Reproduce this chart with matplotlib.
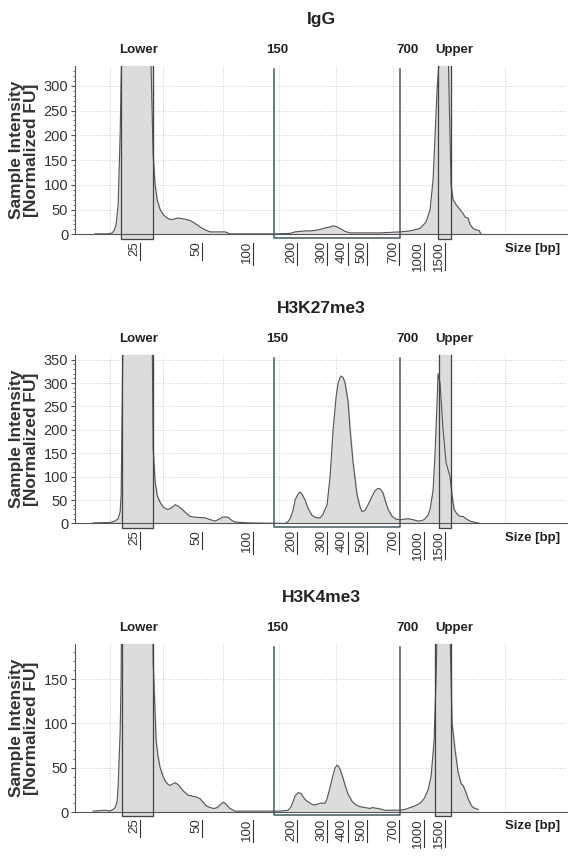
import numpy as np
import matplotlib.pyplot as plt
import matplotlib.transforms as mtransforms

plt.rcParams["font.family"] = ["Liberation Sans", "DejaVu Sans"]

# x positions are migration positions (arbitrary units), y is normalized FU
titles = ["IgG", "H3K27me3", "H3K4me3"]
y_tops = [340, 360, 190]
y_ticks = [[0, 50, 100, 150, 200, 250, 300],
           [0, 50, 100, 150, 200, 250, 300, 350],
           [0, 50, 100, 150]]

igg_x = [95, 108, 112, 114, 116, 118, 120, 122, 150, 153, 155, 157, 160, 163, 167, 170, 174,
         178, 184, 190, 195, 200, 205, 210, 218, 225, 230, 250, 275, 290, 295, 300, 305, 310,
         315, 320, 325, 330, 333, 336, 340, 345, 350, 380, 400, 410, 420, 426, 430, 433, 435,
         437, 438, 441, 448, 451, 453, 456, 460, 463, 465, 468, 470, 473, 476, 479, 481]
igg_y = [1, 1, 3, 8, 20, 60, 200, 420, 420, 160, 100, 70, 50, 40, 33, 30, 31,
         33, 31, 28, 22, 15, 9, 5, 5, 5, 1, 1, 1, 2, 5, 6, 7, 7,
         8, 10, 13, 15, 17, 16, 12, 6, 3, 3, 5, 7, 12, 25, 50, 110, 200,
         290, 320, 400, 380, 100, 70, 60, 50, 42, 35, 33, 20, 12, 9, 8, 0]

k27_x = [93, 110, 114, 118, 120, 121, 123, 152, 153, 155, 157, 160, 163, 166, 168, 171, 175,
         178, 182, 186, 190, 196, 205, 210, 215, 219, 222, 226, 228, 232, 235, 250, 285, 288,
         290, 293, 295, 298, 300, 302, 305, 308, 312, 316, 320, 323, 327, 330, 333, 336, 338,
         340, 341, 343, 345, 348, 350, 353, 357, 360, 362, 365, 368, 372, 375, 378, 380, 383,
         385, 388, 392, 396, 400, 404, 408, 413, 418, 422, 425, 428, 430, 433, 435, 437, 438,
         440, 443, 446, 450, 452, 454, 457, 460, 463, 466, 470, 475, 480]
k27_y = [1, 2, 4, 10, 25, 60, 420, 420, 160, 90, 60, 45, 35, 31, 30, 33, 40,
         37, 30, 22, 15, 13, 12, 8, 5, 9, 13, 14, 13, 6, 3, 1, 0, 4,
         10, 28, 50, 63, 67, 62, 50, 32, 17, 12, 12, 20, 40, 100, 200, 270, 300,
         312, 315, 312, 300, 260, 200, 130, 60, 35, 25, 28, 40, 58, 70, 75, 74, 65,
         50, 30, 15, 9, 8, 9, 10, 8, 5, 6, 10, 18, 30, 70, 150, 260, 320,
         300, 200, 130, 100, 60, 30, 20, 15, 15, 10, 5, 2, 0]

k4_x = [93, 105, 110, 113, 115, 117, 118, 120, 121, 122, 152, 153, 155, 156, 158, 160, 163,
        165, 168, 170, 173, 175, 178, 180, 183, 185, 188, 192, 196, 200, 203, 206, 210, 214,
        217, 220, 223, 225, 228, 230, 235, 260, 280, 288, 291, 293, 295, 298, 301, 303, 306,
        310, 313, 315, 318, 320, 323, 325, 327, 330, 333, 335, 337, 338, 340, 343, 345, 348,
        352, 356, 360, 365, 370, 372, 378, 385, 393, 400, 405, 410, 415, 420, 424, 428, 431,
        434, 436, 438, 449, 452, 455, 458, 461, 463, 466, 468, 471, 473, 478]
k4_y = [1, 2, 1, 3, 5, 12, 30, 90, 150, 400, 400, 170, 110, 80, 62, 50, 40,
        35, 31, 30, 32, 33, 31, 28, 24, 22, 19, 18, 17, 15, 11, 7, 5, 4,
        5, 8, 11, 10, 6, 4, 1, 1, 1, 2, 6, 12, 18, 22, 21, 17, 13,
        10, 8, 8, 9, 10, 10, 10, 15, 28, 42, 50, 53, 52, 48, 38, 30, 20,
        12, 8, 6, 5, 4, 5, 4, 2, 2, 2, 3, 5, 7, 10, 15, 25, 40,
        80, 150, 250, 250, 100, 70, 45, 32, 30, 22, 15, 8, 5, 3]

profiles = [(igg_x, igg_y), (k27_x, k27_y), (k4_x, k4_y)]
lower_boxes = [(121, 153), (122, 153), (122, 153)]
upper_boxes = [(438, 451), (439, 451), (435, 451)]

size_labels = ["25", "50", "100", "200", "300", "400", "500", "700", "1000", "1500"]
size_pos = [137, 199, 250, 294, 324, 345, 364, 396, 421, 442]
marker_names = ["Lower", "150", "700", "Upper"]
marker_pos = [138, 277, 407, 454]
gate_150, gate_700 = 274, 400
grid_x = [110, 163, 223, 279, 336, 393, 449, 505]

fig = plt.figure(figsize=(5.78, 8.68), dpi=100)
bottoms = [0.730, 0.397, 0.0645]

for i in range(3):
    ax = fig.add_axes([0.130, bottoms[i], 0.851, 0.194])
    xs, ys = profiles[i]
    top = y_tops[i]
    ax.set_xlim(75, 567)
    ax.set_ylim(0, top)
    for g in grid_x:
        ax.axvline(g, color="#cccccc", lw=0.7, ls=":", zorder=0)
    for t in y_ticks[i][1:]:
        ax.axhline(t, color="#cccccc", lw=0.7, ls=":", zorder=0)
    ax.fill_between(xs, ys, color="#dcdcdc", zorder=1)
    ax.plot(xs, ys, color="#555555", lw=0.8, zorder=2)
    # marker boxes
    for (a, b) in (lower_boxes[i], upper_boxes[i]):
        ax.fill_between([a, b], [-0.025 * top] * 2, [top] * 2, color="#dcdcdc", zorder=1, clip_on=False)
        ax.plot([a, a, b, b], [top, -0.025 * top, -0.025 * top, top], color="#444444", lw=0.9,
                zorder=3, clip_on=False)
    # gate 150-700
    gtop = 0.98 * top
    ax.plot([gate_150, gate_150, gate_700, gate_700], [gtop, -0.02 * top, -0.02 * top, gtop],
            color="#3f5a5a", lw=1.1, zorder=3, clip_on=False)

    ax.spines["top"].set_visible(False)
    ax.spines["right"].set_visible(False)
    ax.spines["left"].set_color("#555555")
    ax.spines["bottom"].set_color("#555555")
    ax.set_yticks(y_ticks[i])
    ax.set_yticks(np.arange(0, top, 10), minor=True)
    ax.tick_params(axis="y", labelsize=10.5, length=3, width=0.8, color="#555555", labelcolor="#333333",
                   pad=2)
    ax.tick_params(axis="y", which="minor", length=1.5, color="#555555")
    ax.set_xticks([])
    ax.set_ylabel("Sample Intensity\n[Normalized FU]", fontsize=12.5, fontweight="bold",
                  color="#333333", labelpad=3, linespacing=1.0)

    trans = mtransforms.blended_transform_factory(ax.transData, ax.transAxes)
    for lab, p in zip(size_labels, size_pos):
        ax.text(p - 3, -0.04, lab, rotation=90, ha="center", va="top", fontsize=9.5,
                color="#333333", transform=trans)
        ax.plot([p + 3, p + 3], [-0.05, -0.05 - 0.06 * len(lab) / 2 - 0.04], color="#333333",
                lw=0.8, transform=trans, clip_on=False)
    ax.text(560, -0.05, "Size [bp]", ha="right", va="top", fontsize=9.5, fontweight="bold",
            color="#222222", transform=trans)
    for name, p in zip(marker_names, marker_pos):
        ax.text(p, 1.06, name, ha="center", va="bottom", fontsize=9.5, fontweight="bold",
                color="#222222", transform=trans)
    ax.text(0.5, 1.23, titles[i], ha="center", va="bottom", fontsize=12.5, fontweight="bold",
            color="#222222", transform=ax.transAxes)

fig.savefig("out.png", dpi=100)
